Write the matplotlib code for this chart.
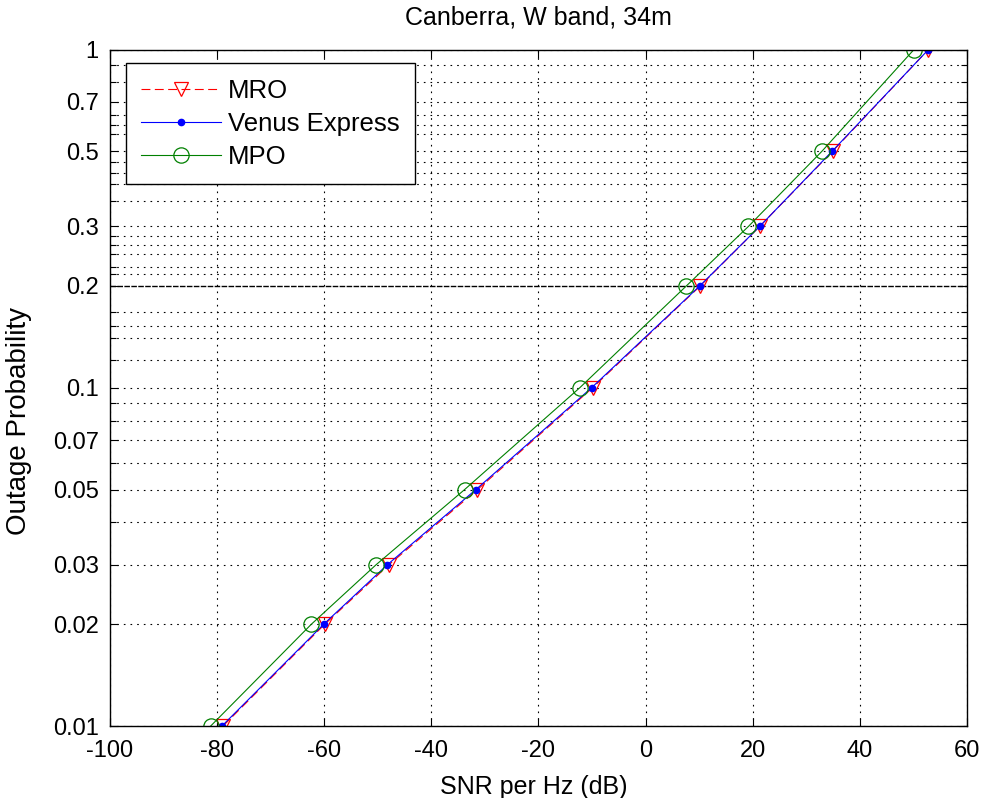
import numpy as np
import matplotlib
matplotlib.use('Agg')
import matplotlib.pyplot as plt

plt.rcParams['font.family'] = ['Liberation Sans', 'DejaVu Sans']
plt.rcParams['axes.unicode_minus'] = False

# outage probability levels, same for the three spacecraft
prob = [0.01, 0.02, 0.03, 0.05, 0.1, 0.2, 0.3, 0.5, 1.0]

# SNR per Hz (dB)
snr_mro = [-78.9, -59.9, -47.9, -31.4, -9.9, 10.2, 21.3, 34.9, 52.8]
snr_venus = [-79.1, -60.1, -48.2, -31.7, -10.1, 10.1, 21.3, 34.8, 52.8]
snr_mpo = [-81.2, -62.4, -50.3, -33.8, -12.3, 7.6, 19.2, 32.9, 50.1]

xticks = [-100, -80, -60, -40, -20, 0, 20, 40, 60]
yticks = [0.01, 0.02, 0.03, 0.05, 0.07, 0.1, 0.2, 0.3, 0.5, 0.7, 1]
ylabels = ['0.01', '0.02', '0.03', '0.05', '0.07', '0.1', '0.2', '0.3', '0.5', '0.7', '1']
# the other horizontal grid lines seen in the figure
yminor = [0.04, 0.06, 0.08, 0.09, 0.121, 0.14, 0.152, 0.167, 0.217, 0.227,
          0.248, 0.265, 0.281, 0.357, 0.4, 0.432, 0.464, 0.563, 0.6, 0.64,
          0.8, 0.9]

fig = plt.figure(figsize=(9.82, 7.98), dpi=100)
ax = fig.add_axes([0.1120, 0.0902, 0.8727, 0.8477])

ax.plot(snr_mro, prob, color='r', ls=(0, (8, 4)), lw=0.8, marker='v', ms=10,
        mfc='none', mec='r', mew=0.9, label='MRO')
ax.plot(snr_venus, prob, color='b', ls='-', lw=0.8, marker='.', ms=9,
        label='Venus Express')
ax.plot(snr_mpo, prob, color=(0, 0.5, 0), ls='-', lw=0.8, marker='o', ms=11,
        mfc='none', mec=(0, 0.5, 0), mew=0.9, label='MPO')

ax.set_yscale('log')
ax.set_xlim(-100, 60)
ax.set_ylim(0.01, 1)
ax.set_xticks(xticks)
ax.set_yticks(yticks)
ax.set_yticklabels(ylabels)
ax.set_yticks(yminor, minor=True)
ax.yaxis.set_minor_formatter(matplotlib.ticker.NullFormatter())

ax.tick_params(which='both', direction='in', top=True, right=True, width=0.8,
               labelsize=17)
ax.tick_params(which='major', length=6)
ax.tick_params(which='minor', length=4)
ax.tick_params(axis='x', pad=10)
ax.tick_params(axis='y', pad=8)

dot = (0, (1.5, 4.5))
ax.grid(True, which='major', ls=dot, color='k', lw=0.8)
ax.grid(True, which='minor', axis='y', ls=dot, color='k', lw=0.8)
for t in ax.yaxis.get_major_ticks():
    if abs(t.get_loc() - 0.2) < 1e-9:
        t.gridline.set_linestyle((0, (4, 1)))
        t.gridline.set_linewidth(1.0)

for s in ax.spines.values():
    s.set_linewidth(1.0)

ax.set_title('Canberra, W band, 34m', fontsize=18, pad=18)
ax.set_xlabel('SNR per Hz (dB)', fontsize=18)
ax.set_ylabel('Outage Probability', fontsize=20)
ax.xaxis.set_label_coords(0.4948, -0.072)
ax.yaxis.set_label_coords(-0.0915, 0.451)

leg = ax.legend(loc='upper left', bbox_to_anchor=(0.0187, 0.980),
                borderaxespad=0, fancybox=False, edgecolor='k',
                handlelength=3.1, labelspacing=0.36, borderpad=0.6,
                handletextpad=0.25, fontsize=18.5)
leg.get_frame().set_linewidth(1.0)
leg.get_frame().set_alpha(1)

fig.savefig('out.png', dpi=100, facecolor='white')
